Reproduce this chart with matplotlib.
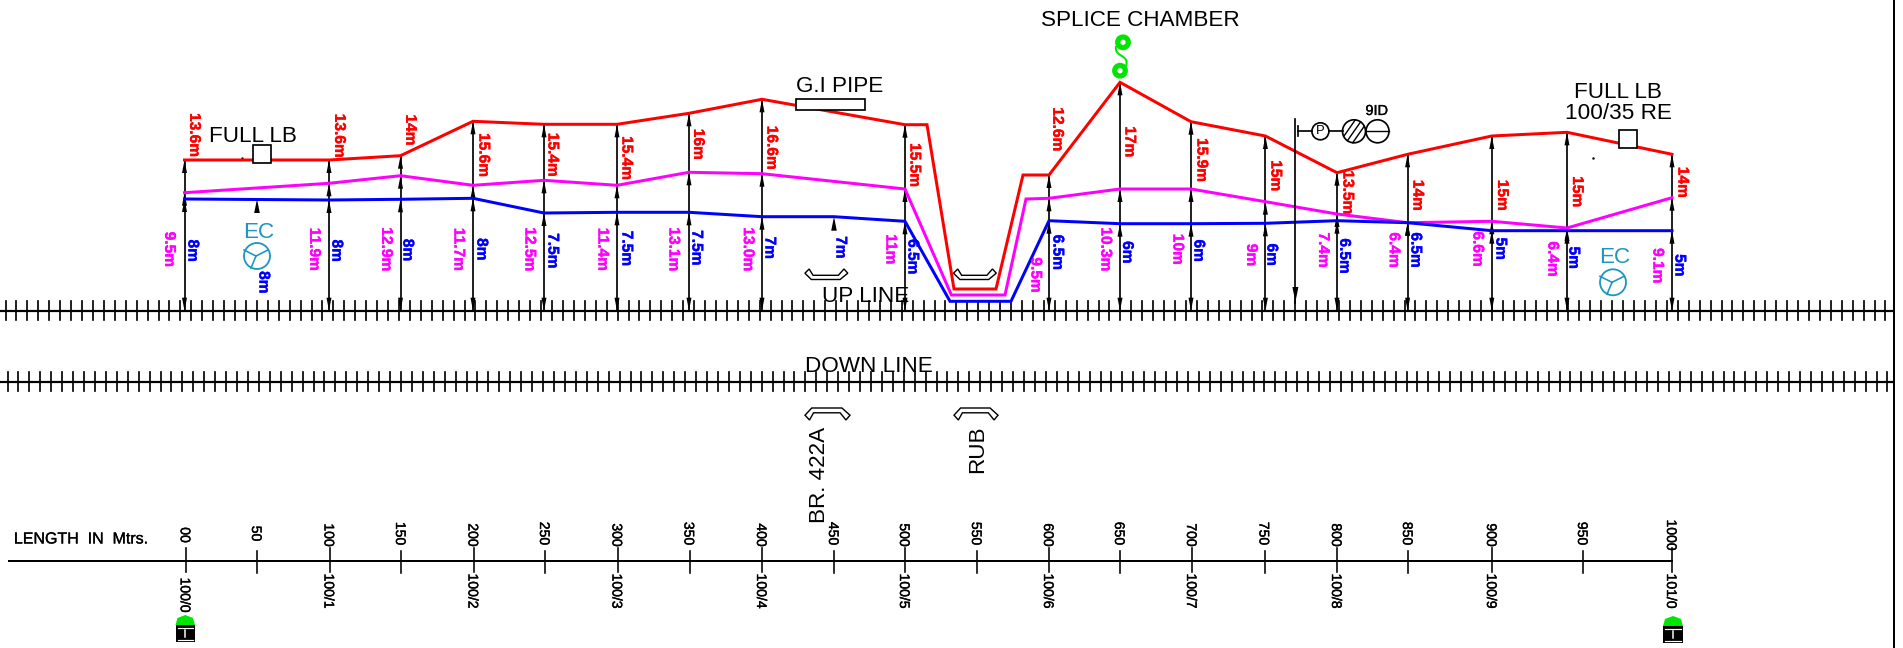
import numpy as np
import matplotlib
matplotlib.use('Agg')
import matplotlib.pyplot as plt
import matplotlib.patheffects as pe
from matplotlib.patches import Circle, Polygon, Rectangle, PathPatch
from matplotlib.path import Path

# drawing is read in picture pixels, y downwards
post_ch = [0, 100, 150, 200, 250, 300, 350, 400, 500, 600, 650, 700, 750, 800, 850, 900, 950, 1000]
post_x = [184.5, 329, 400.5, 473, 544, 617, 689, 762, 905, 1049, 1120, 1191, 1265.4, 1337, 1407.6, 1491.8, 1567, 1672]
post_red = [160, 160, 155.7, 121.3, 124.3, 124.3, 113.3, 99.3, 124.7, 175, 82.3, 121.7, 136, 172.7, 154.3, 136, 132.3, 154.3]
post_mag = [192.7, 183.3, 175.7, 185.3, 180.3, 185.3, 172.3, 173.7, 189, 198.3, 189, 189, 201.7, 214, 222.7, 221.3, 228, 197.7]
post_blue = [199, 200, 199.3, 198.3, 213, 212.3, 212.3, 216.7, 221.3, 220.7, 223.7, 223.7, 223.3, 220.7, 222.7, 230.7, 230.7, 230.7]

red_x = [184.5, 329, 400.5, 473, 544, 617, 689, 762, 905, 927, 954, 996, 1023, 1049, 1120, 1191, 1265.4, 1337, 1407.6, 1491.8, 1567, 1672]
red_y = [160, 160, 155.7, 121.3, 124.3, 124.3, 113.3, 99.3, 124.7, 124.7, 289, 289, 175, 175, 82.3, 121.7, 136, 172.7, 154.3, 136, 132.3, 154.3]
mag_x = [184.5, 329, 400.5, 473, 544, 617, 689, 762, 905, 951.4, 1005, 1026, 1049, 1120, 1191, 1265.4, 1337, 1407.6, 1491.8, 1567, 1672]
mag_y = [192.7, 183.3, 175.7, 185.3, 180.3, 185.3, 172.3, 173.7, 189, 295, 295, 199, 198.3, 189, 189, 201.7, 214, 222.7, 221.3, 228, 197.7]
blue_x = [184.5, 329, 400.5, 473, 544, 617, 689, 762, 834, 905, 950, 1011, 1049, 1120, 1191, 1265.4, 1337, 1407.6, 1491.8, 1567, 1672]
blue_y = [199, 200, 199.3, 198.3, 213, 212.3, 212.3, 216.7, 216.7, 221.3, 301.3, 301.3, 220.7, 223.7, 223.7, 223.3, 220.7, 222.7, 230.7, 230.7, 230.7]

red_txt = ['13.6m', '13.6m', '14m', '15.6m', '15.4m', '15.4m', '16m', '16.6m', '15.5m', '12.6m', '17m', '15.9m', '15m', '13.5m', '14m', '15m', '15m', '14m']
red_tx = [195.7, 340.7, 411.7, 485, 554, 628, 699.6, 773, 916, 1058.8, 1131, 1203, 1277, 1349, 1419, 1503.6, 1578.5, 1684]
red_ty = [135, 135.7, 130, 155, 154.7, 158, 144.3, 147.7, 165, 129.3, 141.7, 160, 175.7, 192.3, 195.3, 195.3, 191.7, 182.3]

mag_txt = ['9.5m', '11.9m', '12.9m', '11.7m', '12.5m', '11.4m', '13.1m', '13.0m', '11m', '9.5m', '10.3m', '10m', '9m', '7.4m', '6.4m', '6.6m', '6.4m', '9.1m']
mag_tx = [170.7, 315.7, 387.7, 460, 531, 604, 675, 749.4, 892, 1037, 1107, 1179, 1252.7, 1324.6, 1395.3, 1479, 1554, 1659]
mag_ty = [249.3, 249.3, 249.3, 249.3, 249.3, 249.3, 249.3, 249.3, 249.3, 275, 249.3, 249.3, 255, 250, 250, 249, 259, 265.7]

blue_txt = ['8m', '8m', '8m', '8m', '8m', '7.5m', '7.5m', '7.5m', '7m', '7m', '6.5m', '6.5m', '6m', '6m', '6m', '6.5m', '6.5m', '5m', '5m', '5m']
blue_tx = [194, 265, 338, 409, 483, 554, 628, 698, 771, 842, 914, 1059, 1128.6, 1200, 1273, 1345.8, 1417, 1502, 1575, 1681]
blue_ty = [250.7, 282.3, 250.7, 250, 249.3, 250.7, 248.3, 247.7, 247.7, 247.3, 256.7, 252.3, 252.3, 250.7, 254.7, 256, 250, 248.7, 257.7, 265.3]

scale_labels = ['00', '50', '100', '150', '200', '250', '300', '350', '400', '450', '500', '550', '600', '650', '700', '750', '800', '850', '900', '950', '1000']
scale_x = [185.7, 257, 329.5, 401, 473.5, 545, 617.5, 689.5, 762, 834, 905, 977, 1049, 1120, 1192, 1264.5, 1337, 1408, 1492, 1583, 1672]
km_labels = ['100/0', '100/1', '100/2', '100/3', '100/4', '100/5', '100/6', '100/7', '100/8', '100/9', '101/0']
km_x = [185.7, 329.5, 473.5, 617.5, 762, 905, 1049, 1192, 1337, 1492, 1672]

RED, MAG, BLUE, TEAL, GREEN = '#ff0000', '#ff00ff', '#0000ff', '#1a96c0', '#00e600'
px = 0.72  # points per pixel at dpi 100

fig = plt.figure(figsize=(19.03, 6.48), dpi=100)
ax = fig.add_axes([0, 0, 1, 1])
ax.set_xlim(0, 1903)
ax.set_ylim(648, 0)
ax.axis('off')

TRACK_UP, TRACK_DN = 310.7, 381.7


def head(x, y, up=True, w=2.5, l=13, color='k'):
    d = l if up else -l
    ax.add_patch(Polygon([(x, y), (x - w, y + d), (x + w, y + d)], closed=True, fc=color, ec='none', zorder=3))


def track(y, start):
    ax.plot([0, 1893], [y, y], color='k', lw=2.2 * px, zorder=2)
    for t in np.arange(start, 1893, 10.93):
        ax.plot([t, t], [y - 9.5, y + 9.5], color='k', lw=1.7 * px, zorder=2)


def bridge(x0, x1, y0, y1, up):
    fx = [0, .15, .82, 1, .91, .78, .19, .1]
    fy = [.6, 0, 0, .6, 1, .4, .4, 1]
    if up:
        fy = [1 - v for v in fy]
    pts = [(x0 + a * (x1 - x0), y0 + b * (y1 - y0)) for a, b in zip(fx, fy)]
    ax.add_patch(Polygon(pts, closed=True, fc='w', ec='k', lw=1.4 * px, zorder=5))


def ec(x, y, tx, ty):
    label(tx, ty, 'EC', color=TEAL)
    ax.add_patch(Circle((x, y), 13, fc='none', ec=TEAL, lw=1.8 * px))
    for dx, dy in [(-12, -6), (12, -6), (-5, 12)]:
        ax.plot([x - 1, x - 1 + dx], [y, y + dy], color=TEAL, lw=1.6 * px)


def box(x0, x1, y0, y1):
    ax.add_patch(Rectangle((x0, y0), x1 - x0, y1 - y0, fc='w', ec='k', lw=1.7 * px, zorder=6))


def label(x, y, s, size=22.5, rot=0, heavy=0, **kw):
    # text boxes leave room for descenders, move the glyphs back to centre
    if rot == 270:
        x -= 1
    elif rot == 90:
        x += 2
    else:
        y += 2
    t = ax.text(x, y, s, fontsize=size * px, rotation=rot, ha='center', va='center', zorder=7,
                family='Liberation Sans', **kw)
    if heavy:
        t.set_path_effects([pe.withStroke(linewidth=heavy * px, foreground=kw.get('color', 'k'))])


track(TRACK_UP, 5.5)
track(TRACK_DN, 7.5)
ax.plot([1894.3, 1894.3], [0, 648], color='k', lw=2 * px)

# height arrows up from the track to each wire
for x, r, m, b in zip(post_x, post_red, post_mag, post_blue):
    ax.plot([x, x], [r, TRACK_UP], color='k', lw=1.7 * px, zorder=2)
    for y in (r, m, b):
        head(x, y)
    head(x, TRACK_UP, up=False)
head(257, 199, l=14, w=2.8)
head(834, 216.7, l=14, w=2.8)

ax.plot(red_x, red_y, color=RED, lw=3 * px, zorder=4, solid_joinstyle='miter')
ax.plot(mag_x, mag_y, color=MAG, lw=3 * px, zorder=4, solid_joinstyle='miter')
ax.plot(blue_x, blue_y, color=BLUE, lw=3 * px, zorder=4, solid_joinstyle='miter')

for t, x, y in zip(red_txt, red_tx, red_ty):
    label(x, y, t, 15.5, 270, color=RED, fontweight='bold', heavy=0.4)
for t, x, y in zip(mag_txt, mag_tx, mag_ty):
    label(x, y, t, 15.5, 270, color=MAG, fontweight='bold', heavy=0.4)
for t, x, y in zip(blue_txt, blue_tx, blue_ty):
    label(x, y, t, 15.5, 270, color=BLUE, fontweight='bold', heavy=0.4)

label(253, 134, 'FULL LB')
box(253.3, 270.7, 145, 163.3)
label(839.6, 84.3, 'G.I PIPE')
box(795.5, 865, 99.3, 110)
label(1140, 19, 'SPLICE CHAMBER')
label(865.7, 294.7, 'UP LINE')
label(868.7, 365, 'DOWN LINE')
label(817.3, 475, 'BR. 422A', rot=90)
label(976, 449, 'RUB', rot=90)
label(1618, 90, 'FULL LB')
label(1618, 111.7, '100/35 RE')
box(1618.8, 1636.5, 130, 148)
ec(257, 256, 259, 230)
ec(1613, 282.3, 1615, 255.7)
ax.plot([241.7, 1593], [157.7, 158], ls='none', marker='.', ms=1.5, color='k')

# splice chamber mark
for x, y in [(1123, 42.3), (1120, 70.7)]:
    ax.add_patch(Circle((x, y), 5.3, fc='w', ec=GREEN, lw=5.2 * px, zorder=5))
ax.add_patch(PathPatch(Path([(1116, 46), (1114, 58), (1130, 54), (1126, 66)], [1, 4, 4, 4]),
                       fc='none', ec=GREEN, lw=2 * px, zorder=5))

bridge(804.9, 847.8, 269, 279.5, True)
bridge(953.5, 996.3, 269, 279.5, True)
bridge(805, 850, 408, 420, False)
bridge(954, 998, 408, 420, False)

# signal post
ax.plot([1295.4, 1295.4], [118.7, TRACK_UP - 8], color='k', lw=1.7 * px, zorder=5)
head(1295.4, 302, up=False, w=3, l=15)
ax.plot([1298.4, 1298.4], [126, 136], color='k', lw=1.7 * px)
ax.plot([1298.4, 1312], [131.3, 131.3], color='k', lw=1.7 * px)
ax.plot([1329, 1342.5], [131.3, 131.3], color='k', lw=1.7 * px)
ax.add_patch(Circle((1320.4, 131.3), 8.5, fc='none', ec='k', lw=1.7 * px))
label(1320.4, 129.3, 'P', 13)
ax.add_patch(Circle((1354, 131.3), 11.5, fc='none', ec='k', lw=1.7 * px))
for off in (-5.5, 0, 5.5):
    half = np.sqrt(11.5 ** 2 - off ** 2)
    ux, uy = np.cos(np.radians(-55)), np.sin(np.radians(-55))
    cx, cy = 1354 + off * -uy, 131.3 + off * ux
    ax.plot([cx - half * ux, cx + half * ux], [cy - half * uy, cy + half * uy], color='k', lw=1.4 * px)
ax.add_patch(Circle((1377.5, 131.3), 11.5, fc='none', ec='k', lw=1.7 * px))
ax.plot([1366, 1389], [131.3, 131.3], color='k', lw=1.4 * px)
label(1376.7, 109, '9ID', 14.5, heavy=0.3)

# chainage scale
ax.plot([9, 1672], [560.5, 560.5], color='k', lw=2 * px)
label(81, 537, 'LENGTH  IN  Mtrs.', 16, heavy=0.3)
for s, x in zip(scale_labels, scale_x):
    major = s in ('00', '100', '200', '300', '400', '500', '600', '700', '800', '900', '1000')
    y0, y1 = (548, 571.7) if major else (551, 573.3)
    ax.plot([x, x], [y0, y1], color='k', lw=1.6 * px)
    label(x, 535 if major else 533.5, s, 14, 270, heavy=0.4)
for s, x in zip(km_labels, km_x):
    label(x, 595 if s == '100/0' else 591, s, 14, 270, heavy=0.4)

# gradient board at each end
for x0, x1, y0 in [(175.5, 195, 615), (1663, 1683, 616)]:
    ax.add_patch(Polygon([(x0, y0 + 10), (x0 + 2, y0 + 3), ((x0 + x1) / 2, y0), (x1 - 2, y0 + 3), (x1, y0 + 10)],
                         closed=True, fc=GREEN, ec='none'))
    ax.add_patch(Rectangle((x0, y0 + 10), x1 - x0, 17, fc='k', ec='none'))
    ax.plot([x0 + 2, x1 - 2], [y0 + 13, y0 + 13], color='w', lw=1.2 * px)
    ax.plot([x0 + 2, x1 - 2], [y0 + 25, y0 + 25], color='w', lw=1.2 * px)
    ax.plot([(x0 + x1) / 2, (x0 + x1) / 2], [y0 + 15, y0 + 22], color='w', lw=1.5 * px)

plt.savefig('out.png', dpi=100, facecolor='white')
